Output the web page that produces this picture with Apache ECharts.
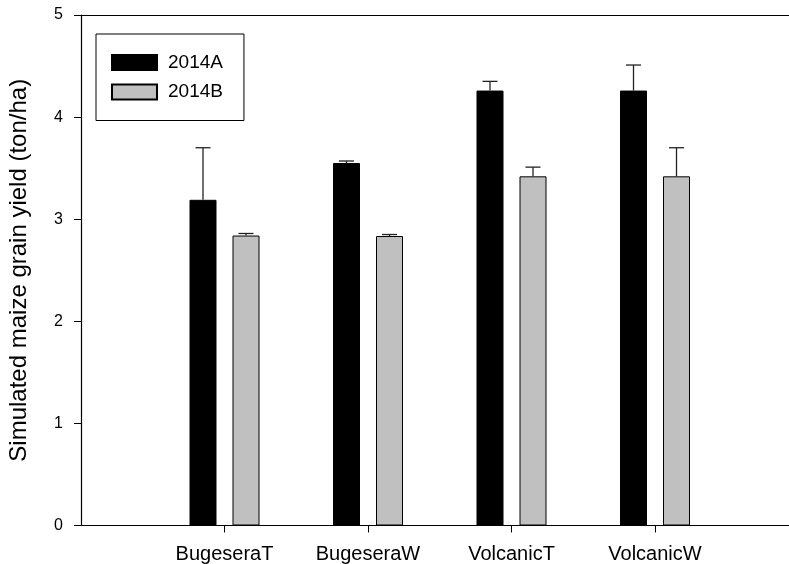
<!DOCTYPE html>
<html>
<head>
<meta charset="utf-8">
<script src="https://cdn.jsdelivr.net/npm/echarts@6/dist/echarts.min.js"></script>
<style>
html,body{margin:0;padding:0;background:#fff;overflow:hidden;}
#chart{width:789px;height:564px;}
</style>
</head>
<body>
<div id="chart"></div>
<script>
const categories = ['BugeseraT', 'BugeseraW', 'VolcanicT', 'VolcanicW'];
const seriesNames = ['2014A', '2014B'];
const yield2014A = [3.19, 3.55, 4.26, 4.26];
const err2014A = [0.51, 0.02, 0.09, 0.25];
const yield2014B = [2.84, 2.835, 3.42, 3.42];
const err2014B = [0.02, 0.015, 0.09, 0.28];
const yTicks = [0, 1, 2, 3, 4, 5];

const FONT = '"Liberation Sans", Arial, sans-serif';
const W = 789, GRID_LEFT = 81;
const SLOT = 143.5;               // pixel width of one category slot
const X_MAX = (W - GRID_LEFT) / SLOT;
const BAR_W = 27;
const GAP_PX = 16;
const OFFSET = (BAR_W + GAP_PX) / 2;
const catPositions = categories.map((c, i) => i + 1);

const barData = vals => categories.map((c, i) => [i + 1, vals[i]]);
const errData = (vals, errs) => categories.map((c, i) => [i + 1, vals[i], errs[i]]);

function errRender(sign) {
  return function (params, api) {
    const xi = api.value(0);
    const v = api.value(1);
    const e = api.value(2);
    const p0 = api.coord([xi, v]);
    const p1 = api.coord([xi, v + e]);
    const x = p0[0] + sign * OFFSET;
    const cap = 7.5;
    const style = { stroke: '#222', lineWidth: 1.3 };
    return {
      type: 'group',
      children: [
        { type: 'line', shape: { x1: x, y1: p0[1], x2: x, y2: p1[1] }, style: style },
        { type: 'line', shape: { x1: x - cap, y1: p1[1], x2: x + cap, y2: p1[1] }, style: style }
      ]
    };
  };
}

const chart = echarts.init(document.getElementById('chart'), null, { renderer: 'canvas' });
chart.setOption({
  animation: false,
  backgroundColor: '#fff',
  textStyle: { fontFamily: FONT },
  grid: { left: GRID_LEFT, top: 15, bottom: 38.5, right: 0, outerBoundsMode: 'none' },
  legend: {
    orient: 'vertical',
    left: 96, top: 34,
    padding: [19, 21, 19, 15],
    itemWidth: 45, itemHeight: 15, itemGap: 10.5,
    icon: 'rect',
    borderColor: '#000', borderWidth: 1,
    backgroundColor: '#fff',
    data: seriesNames,
    textStyle: { fontFamily: FONT, fontSize: 19, color: '#000', padding: [0, 0, 0, 6] }
  },
  xAxis: [
    {
      type: 'value',
      min: 0, max: X_MAX, interval: 1,
      axisLine: { show: true, onZero: false, lineStyle: { color: '#000', width: 1.2 } },
      axisTick: { show: true, length: 7, customValues: catPositions, lineStyle: { color: '#000', width: 1 } },
      axisLabel: {
        fontFamily: FONT, fontSize: 20, color: '#000', margin: 19,
        customValues: catPositions,
        formatter: v => (categories[Math.round(v) - 1] || '')
      },
      splitLine: { show: false }
    },
    {
      type: 'value', position: 'top',
      min: 0, max: X_MAX,
      axisLine: { show: true, onZero: false, lineStyle: { color: '#000', width: 1.2 } },
      axisTick: { show: false }, axisLabel: { show: false }, splitLine: { show: false }
    }
  ],
  yAxis: {
    type: 'value',
    min: yTicks[0], max: yTicks[yTicks.length - 1], interval: 1,
    name: 'Simulated maize grain yield (ton/ha)',
    nameLocation: 'middle',
    nameGap: 50,
    nameTextStyle: { fontFamily: FONT, fontSize: 24, color: '#000' },
    axisLine: { show: true, lineStyle: { color: '#000', width: 1.2 } },
    axisTick: { show: true, length: 7, lineStyle: { color: '#000', width: 1 } },
    axisLabel: { fontFamily: FONT, fontSize: 16, color: '#000', margin: 18 },
    splitLine: { show: false }
  },
  series: [
    {
      name: seriesNames[0], type: 'bar', data: barData(yield2014A),
      barWidth: BAR_W, barGap: (GAP_PX / BAR_W * 100) + '%',
      itemStyle: { color: '#000', borderColor: '#000', borderWidth: 1 }
    },
    {
      name: seriesNames[1], type: 'bar', data: barData(yield2014B),
      barWidth: BAR_W, barGap: (GAP_PX / BAR_W * 100) + '%',
      itemStyle: { color: '#c0c0c0', borderColor: '#000', borderWidth: 1 }
    },
    {
      type: 'custom', renderItem: errRender(-1), data: errData(yield2014A, err2014A),
      encode: { x: 0, y: 1 }, z: 5, silent: true
    },
    {
      type: 'custom', renderItem: errRender(1), data: errData(yield2014B, err2014B),
      encode: { x: 0, y: 1 }, z: 5, silent: true
    }
  ]
});
</script>
</body>
</html>
